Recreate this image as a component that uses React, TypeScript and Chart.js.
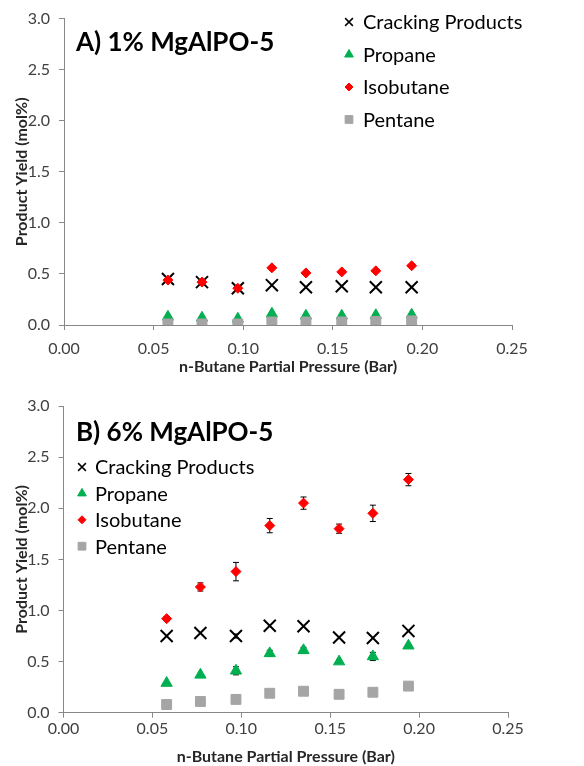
import React, { useEffect, useRef } from 'react';
import { Chart, registerables } from 'chart.js';
import { drawPoint } from 'chart.js/helpers';

Chart.register(...registerables);

// ---------- data ----------
const pressures = [0.058, 0.077, 0.097, 0.116, 0.135, 0.155, 0.174, 0.194];
const seriesLabels = ['Cracking Products', 'Propane', 'Isobutane', 'Pentane'];
const xTickValues = [0, 0.05, 0.1, 0.15, 0.2, 0.25];
const yTickValues = [0, 0.5, 1.0, 1.5, 2.0, 2.5, 3.0];

// A) 1% MgAlPO-5
const aCracking = [0.45, 0.42, 0.36, 0.39, 0.37, 0.38, 0.37, 0.37];
const aPropane = [0.08, 0.07, 0.06, 0.11, 0.09, 0.09, 0.095, 0.10];
const aIsobutane = [0.44, 0.42, 0.36, 0.56, 0.51, 0.52, 0.53, 0.58];
const aPentane = [0.01, 0.01, 0.01, 0.03, 0.03, 0.03, 0.035, 0.04];

// B) 6% MgAlPO-5
const bCracking = [0.75, 0.78, 0.75, 0.85, 0.845, 0.735, 0.73, 0.80];
const bPropane = [0.29, 0.37, 0.41, 0.58, 0.61, 0.50, 0.55, 0.655];
const bIsobutane = [0.92, 1.23, 1.38, 1.83, 2.05, 1.80, 1.95, 2.28];
const bPentane = [0.08, 0.11, 0.13, 0.19, 0.21, 0.18, 0.20, 0.26];

const bCrackingErr = [0, 0, 0.02, 0, 0, 0, 0, 0];
const bPropaneErr = [0, 0, 0.04, 0.03, 0.03, 0, 0.04, 0];
const bIsobutaneErr = [0.02, 0.04, 0.09, 0.07, 0.06, 0.045, 0.08, 0.06];

const FONT = 'Lato, "Noto Sans", sans-serif';

const errorBarPlugin = {
  id: 'errorBars',
  beforeDatasetsDraw(chart: any) {
    const { ctx } = chart;
    const xs = chart.scales.x;
    const ys = chart.scales.y;
    chart.data.datasets.forEach((ds: any) => {
      const errs = ds.errorBars;
      if (!errs) return;
      ctx.save();
      ctx.strokeStyle = '#000';
      ctx.lineWidth = 1;
      ds.data.forEach((p: any, j: number) => {
        const e = errs[j];
        if (!e) return;
        const px = xs.getPixelForValue(p.x);
        const top = ys.getPixelForValue(p.y + e);
        const bot = ys.getPixelForValue(p.y - e);
        ctx.beginPath();
        ctx.moveTo(px, top);
        ctx.lineTo(px, bot);
        ctx.moveTo(px - 3, top);
        ctx.lineTo(px + 3, top);
        ctx.moveTo(px - 3, bot);
        ctx.lineTo(px + 3, bot);
        ctx.stroke();
      });
      ctx.restore();
    });
  },
};

const overlayPlugin = {
  id: 'overlay',
  afterDraw(chart: any, _args: any, opts: any) {
    const { ctx } = chart;
    ctx.save();
    ctx.textBaseline = 'middle';
    ctx.textAlign = 'left';
    ctx.fillStyle = '#000';
    ctx.font = `bold ${opts.titleSize}px ${FONT}`;
    ctx.fillText(opts.title, opts.titleX, opts.titleY);
    ctx.font = `${opts.legendSize}px ${FONT}`;
    const radii = [5.5, 5, 4, 5.5];
    chart.data.datasets.forEach((ds: any, k: number) => {
      const cy = opts.legendY + k * opts.legendGap;
      ctx.fillStyle = ds.backgroundColor;
      ctx.strokeStyle = ds.borderColor;
      ctx.lineWidth = ds.pointStyle === 'crossRot' ? 1.5 : 1;
      drawPoint(ctx, { pointStyle: ds.pointStyle, radius: radii[k], rotation: 0, borderWidth: ctx.lineWidth }, opts.markerX, cy);
      ctx.fillStyle = '#000';
      ctx.fillText(ds.label, opts.textX, cy + 1);
    });
    ctx.restore();
  },
};

function makeDatasets(vals: number[][], errs: (number[] | null)[]) {
  const styles = [
    { pointStyle: 'crossRot', color: '#000000', radius: 8.5, border: 2, order: 3 },
    { pointStyle: 'triangle', color: '#00B050', radius: 6.5, border: 1, order: 2 },
    { pointStyle: 'rectRot', color: '#FF0000', radius: 5, border: 1, order: 1 },
    { pointStyle: 'rect', color: '#A5A5A5', radius: 7, border: 1, order: 0 },
  ];
  return vals.map((v, i) => ({
    label: seriesLabels[i],
    data: pressures.map((x, j) => ({ x, y: v[j] })),
    pointStyle: styles[i].pointStyle,
    backgroundColor: styles[i].color,
    borderColor: styles[i].color,
    pointRadius: styles[i].radius,
    pointHoverRadius: styles[i].radius,
    pointBorderWidth: styles[i].border,
    borderWidth: styles[i].border,
    showLine: false,
    order: styles[i].order,
    errorBars: errs[i],
  }));
}

function makeOptions(cfg: any) {
  return {
    responsive: false,
    animation: false,
    events: [],
    layout: { padding: { left: 0, top: cfg.top, right: cfg.right, bottom: 0 } },
    plugins: {
      legend: { display: false },
      tooltip: { enabled: false },
      overlay: cfg.overlay,
    },
    scales: {
      x: {
        type: 'linear',
        min: 0,
        max: 0.25,
        afterBuildTicks: (s: any) => { s.ticks = xTickValues.map((v) => ({ value: v })); },
        afterFit: (s: any) => { s.height = cfg.xHeight; },
        ticks: {
          callback: (v: any) => Number(v).toFixed(2),
          color: '#404040',
          font: { family: FONT, size: 16 },
          padding: cfg.xTickPad,
          maxRotation: 0,
        },
        grid: { drawOnChartArea: false, drawTicks: true, tickLength: 5, color: '#888888' },
        border: { color: '#888888', width: 1 },
        title: {
          display: true,
          text: 'n-Butane Partial Pressure (Bar)',
          color: '#262626',
          font: { family: FONT, size: 16, weight: 'bold' },
          padding: { top: 0, bottom: cfg.xTitlePad },
        },
      },
      y: {
        type: 'linear',
        min: 0,
        max: 3,
        afterBuildTicks: (s: any) => { s.ticks = yTickValues.map((v) => ({ value: v })); },
        afterFit: (s: any) => { s.width = cfg.yWidth; },
        ticks: {
          callback: (v: any) => Number(v).toFixed(1),
          color: '#404040',
          font: { family: FONT, size: 16 },
          padding: 9,
        },
        grid: { drawOnChartArea: false, drawTicks: true, tickLength: 5, color: '#888888' },
        border: { color: '#888888', width: 1 },
        title: {
          display: true,
          text: 'Product Yield (mol%)',
          color: '#262626',
          font: { family: FONT, size: 16, weight: 'bold' },
          padding: { top: 12, bottom: 0 },
        },
      },
    },
  };
}

function ScatterPanel(props: { vals: number[][]; errs: (number[] | null)[]; cfg: any }) {
  const ref = useRef<HTMLCanvasElement | null>(null);
  useEffect(() => {
    if (!ref.current) return;
    const chart = new Chart(ref.current, {
      type: 'scatter',
      data: { datasets: makeDatasets(props.vals, props.errs) as any },
      options: makeOptions(props.cfg) as any,
      plugins: [errorBarPlugin, overlayPlugin],
    });
    return () => chart.destroy();
  }, []);
  return (
    <div style={{ width: 584, height: 383, position: 'relative' }}>
      <canvas ref={ref} width={584} height={383} style={{ display: 'block' }} />
    </div>
  );
}

export default function App() {
  const cfgA = {
    top: 16,
    right: 72,
    yWidth: 64,
    xHeight: 58,
    xTickPad: 9,
    xTitlePad: 7,
    overlay: {
      title: 'A) 1% MgAlPO-5',
      titleX: 76,
      titleY: 43,
      titleSize: 26,
      legendY: 22,
      legendGap: 32.5,
      legendSize: 20,
      markerX: 349,
      textX: 363,
    },
  };
  const cfgB = {
    top: 23,
    right: 76,
    yWidth: 63.5,
    xHeight: 53.3,
    xTickPad: 2,
    xTitlePad: 0,
    overlay: {
      title: 'B) 6% MgAlPO-5',
      titleX: 76,
      titleY: 50,
      titleSize: 26,
      legendY: 84,
      legendGap: 26.4,
      legendSize: 20,
      markerX: 82,
      textX: 95,
    },
  };
  return (
    <div style={{ position: 'absolute', left: 0, top: 0, width: 584, height: 766, background: '#fff' }}>
      <ScatterPanel vals={[aCracking, aPropane, aIsobutane, aPentane]} errs={[null, null, null, null]} cfg={cfgA} />
      <ScatterPanel
        vals={[bCracking, bPropane, bIsobutane, bPentane]}
        errs={[bCrackingErr, bPropaneErr, bIsobutaneErr, null]}
        cfg={cfgB}
      />
    </div>
  );
}
